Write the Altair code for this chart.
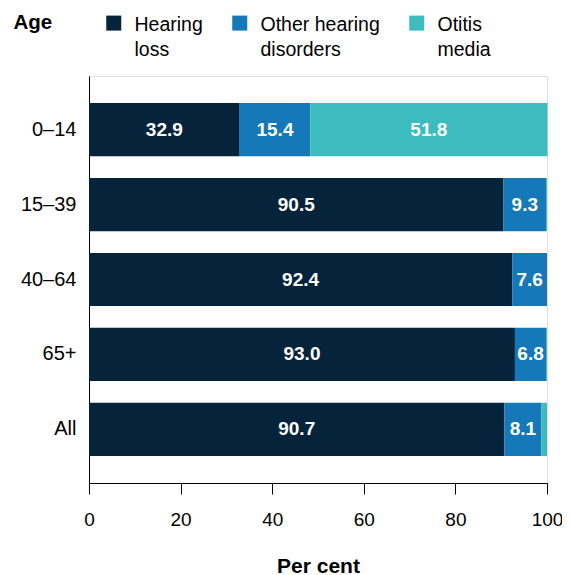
import altair as alt
import pandas as pd

ages = ["0–14", "15–39", "40–64", "65+", "All"]
conditions = ["Hearing loss", "Other hearing disorders", "Otitis media"]
hearing_loss = [32.9, 90.5, 92.4, 93.0, 90.7]
other_disorders = [15.4, 9.3, 7.6, 6.8, 8.1]
otitis_media = [51.8, 0.2, 0.0, 0.2, 1.2]
colors = ["#05233a", "#1478b9", "#3cbcbe"]

rows = []
for i, age in enumerate(ages):
    start = 0.0
    for cond, series in zip(conditions, [hearing_loss, other_disorders, otitis_media]):
        v = series[i]
        rows.append({"age": age, "condition": cond, "value": v,
                     "start": start, "end": start + v, "mid": start + v / 2,
                     "label": f"{v:.1f}" if v >= 5 else "",
                     "order": conditions.index(cond)})
        start += v
df = pd.DataFrame(rows)

FONT = "Liberation Sans"

y_enc = alt.Y("age:N", sort=ages,
              scale=alt.Scale(paddingInner=0.29, paddingOuter=0.36),
              axis=alt.Axis(title="Age", titleAngle=0, titleAlign="left",
                            titleBaseline="alphabetic", titleX=-76, titleY=-48,
                            titleFontSize=20.5, titleFontWeight="bold", titleFont=FONT,
                            titleColor="black",
                            labelFontSize=20, labelFont=FONT, labelColor="black",
                            labelPadding=13, ticks=False, domainColor="black",
                            domainWidth=1))

bars = alt.Chart(df).mark_bar().encode(
    y=y_enc,
    x=alt.X("start:Q", scale=alt.Scale(domain=[0, 100], nice=False),
            axis=alt.Axis(title="Per cent", values=[0, 20, 40, 60, 80, 100],
                          grid=False, tickSize=11, tickColor="black", tickWidth=1,
                          domainColor="black", domainWidth=1,
                          labelFontSize=19, labelFont=FONT, labelColor="black",
                          labelPadding=16, labelFlush=False,
                          titleFontSize=21, titleFont=FONT, titleFontWeight="bold",
                          titleColor="black", titleBaseline="alphabetic",
                          titleY=89)),
    x2="end:Q",
    color=alt.Color("condition:N", sort=conditions,
                    scale=alt.Scale(domain=conditions, range=colors),
                    legend=alt.Legend(
                        orient="none", legendX=15, legendY=-55,
                        direction="horizontal", title=None,
                        symbolType="M-1,-2.07H1V-0.07H-1Z", symbolSize=225,
                        symbolStrokeWidth=0, symbolOpacity=1,
                        labelFontSize=19.5, labelFont=FONT, labelColor="black",
                        labelOffset=11, columnPadding=27, labelLimit=300,
                        labelBaseline="alphabetic",
                        labelExpr="datum.label == 'Hearing loss' ? ['Hearing', 'loss'] : datum.label == 'Other hearing disorders' ? ['Other hearing', 'disorders'] : ['Otitis', 'media']")),
    order="order:Q",
)

texts = alt.Chart(df).mark_text(color="white", fontWeight="bold", fontSize=19,
                                font=FONT, baseline="middle").encode(
    y=alt.Y("age:N", sort=ages),
    x=alt.X("mid:Q"),
    text="label:N",
)

chart = (bars + texts).properties(
    width=458, height=407,
    padding={"left": 81, "top": 68, "right": 15, "bottom": 92},
    autosize=alt.AutoSizeParams(type="none"),
).configure_view(stroke=None).configure(style={"guide-label": {"lineHeight": 25}})

chart.save("out.html", embed_options={"renderer": "svg", "actions": False})
